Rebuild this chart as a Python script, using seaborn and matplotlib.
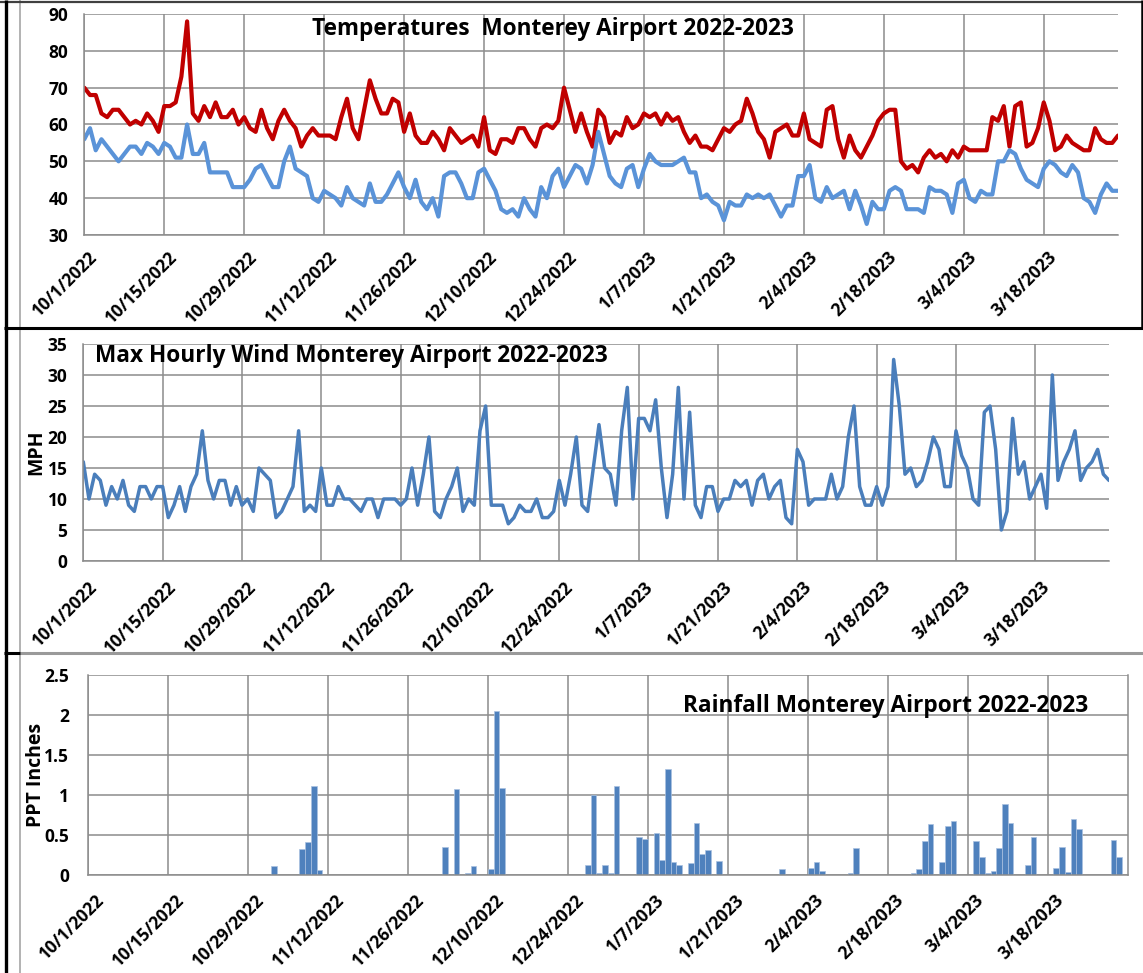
import numpy as np
import matplotlib
matplotlib.use("Agg")
import matplotlib.pyplot as plt
import seaborn as sns
from matplotlib.lines import Line2D
from matplotlib.transforms import ScaledTranslation

# ---------------- data ----------------
tick_labels = ["10/1/2022", "10/15/2022", "10/29/2022", "11/12/2022", "11/26/2022",
               "12/10/2022", "12/24/2022", "1/7/2023", "1/21/2023", "2/4/2023",
               "2/18/2023", "3/4/2023", "3/18/2023"]

high_f = [70, 68, 68, 63, 62, 64, 64, 62, 60, 61, 60, 63, 61, 58, 65, 65, 66, 73, 88, 63,
          61, 65, 62, 66, 62, 62, 64, 60, 62, 59, 58, 64, 59, 56, 61, 64, 61, 59, 54, 57,
          59, 57, 57, 57, 56, 62, 67, 59, 56, 64, 72, 67, 63, 63, 67, 66, 58, 63, 57, 55,
          55, 58, 56, 53, 59, 57, 55, 56, 57, 54, 62, 53, 52, 56, 56, 55, 59, 59, 56, 54,
          59, 60, 59, 61, 70, 64, 58, 63, 58, 54, 64, 62, 55, 58, 57, 62, 59, 60, 63, 62,
          63, 60, 63, 61, 62, 58, 55, 57, 54, 54, 53, 56, 59, 58, 60, 61, 67, 63, 58, 56,
          51, 58, 59, 60, 57, 57, 63, 56, 55, 54, 64, 65, 56, 51, 57, 53, 51, 54, 57, 61,
          63, 64, 64, 50, 48, 49, 47, 51, 53, 51, 52, 50, 53, 51, 54, 53, 53, 53, 53, 62,
          61, 65, 54, 65, 66, 54, 55, 59, 66, 61, 53, 54, 57, 55, 54, 53, 53, 59, 56, 55,
          55, 57]

low_f = [56, 59, 53, 56, 54, 52, 50, 52, 54, 54, 52, 55, 54, 52, 55, 54, 51, 51, 60, 52,
         52, 55, 47, 47, 47, 47, 43, 43, 43, 45, 48, 49, 46, 43, 43, 50, 54, 48, 47, 46,
         40, 39, 42, 41, 40, 38, 43, 40, 39, 38, 44, 39, 39, 41, 44, 47, 43, 40, 45, 39,
         37, 40, 35, 46, 47, 47, 44, 40, 40, 47, 48, 45, 42, 37, 36, 37, 35, 40, 37, 35,
         43, 40, 46, 48, 43, 46, 49, 48, 44, 49, 58, 52, 46, 44, 43, 48, 49, 43, 48, 52,
         50, 49, 49, 49, 50, 51, 47, 47, 40, 41, 39, 38, 34, 39, 38, 38, 41, 40, 41, 40,
         41, 38, 35, 38, 38, 46, 46, 49, 40, 39, 43, 40, 41, 42, 37, 42, 38, 33, 39, 37,
         37, 42, 43, 42, 37, 37, 37, 36, 43, 42, 42, 41, 36, 44, 45, 40, 39, 42, 41, 41,
         50, 50, 53, 52, 48, 45, 44, 43, 48, 50, 49, 47, 46, 49, 47, 40, 39, 36, 41, 44,
         42, 42]

wind_mph = [16, 10, 14, 13, 9, 12, 10, 13, 9, 8, 12, 12, 10, 12, 12, 7, 9, 12, 8, 12,
            14, 21, 13, 10, 13, 13, 9, 12, 9, 10, 8, 15, 14, 13, 7, 8, 10, 12, 21, 8,
            9, 8, 15, 9, 9, 12, 10, 10, 9, 8, 10, 10, 7, 10, 10, 10, 9, 10, 15, 9,
            14, 20, 8, 7, 10, 12, 15, 8, 10, 9, 21, 25, 9, 9, 9, 6, 7, 9, 8, 8,
            10, 7, 7, 8, 13, 9, 14, 20, 9, 8, 15, 22, 15, 14, 9, 21, 28, 10, 23, 23,
            21, 26, 15, 7, 14, 28, 10, 24, 9, 7, 12, 12, 8, 10, 10, 13, 12, 13, 9, 13,
            14, 10, 12, 13, 7, 6, 18, 16, 9, 10, 10, 10, 14, 10, 12, 20, 25, 12, 9, 9,
            12, 9, 12, 32.5, 25, 14, 15, 12, 13, 16, 20, 18, 12, 12, 21, 17, 15, 10, 9, 24,
            25, 18, 5, 8, 23, 14, 16, 10, 12, 14, 8.5, 30, 13, 16, 18, 21, 13, 15, 16, 18,
            14, 13]

rain_days = [32, 37, 38, 39, 40, 62, 64, 66, 67, 70, 71, 72, 87, 88, 89, 90, 91, 92,
             96, 97, 99, 100, 101, 102, 103, 105, 106, 107, 108, 110, 121, 126, 127, 128,
             133, 134, 144, 145, 146, 147, 149, 150, 151, 155, 156, 157, 158, 159, 160,
             161, 164, 165, 169, 170, 171, 172, 173, 179, 180]
rain_in = [0.11, 0.32, 0.41, 1.11, 0.06, 0.35, 1.08, 0.03, 0.11, 0.07, 2.05, 1.09, 0.13,
           1.00, 0.03, 0.13, 0.03, 1.11, 0.47, 0.45, 0.53, 0.19, 1.32, 0.16, 0.12, 0.15,
           0.65, 0.26, 0.31, 0.17, 0.08, 0.09, 0.16, 0.05, 0.02, 0.34, 0.02, 0.07, 0.43,
           0.64, 0.16, 0.61, 0.68, 0.43, 0.22, 0.03, 0.05, 0.34, 0.89, 0.65, 0.12, 0.47,
           0.09, 0.35, 0.04, 0.70, 0.57, 0.44, 0.22]

# ---------------- style ----------------
W, H = 1143, 973
sns.set_style("white")
plt.rcParams['font.family'] = ['Open Sans', 'DejaVu Sans']
plt.rcParams['font.weight'] = 'bold'
plt.rcParams['axes.labelweight'] = 'bold'

RED = '#C00000'
LOWBLUE = '#5A93D8'
WINDBLUE = '#4A7EBB'
BARBLUE = '#4F81BD'
GRID = '#8C8C8C'
TICKSIZE = 12.5
TITLESIZE = 16.3

fig = plt.figure(figsize=(W / 100, H / 100), dpi=100)


def box(x0, y0, x1, y1):
    return [x0 / W, 1 - y1 / H, (x1 - x0) / W, (y1 - y0) / H]


n = len(high_f)
days = np.arange(n)
rain = np.zeros(n)
rain[rain_days] = rain_in
tick_idx = np.arange(0, n, 14)


def style_axes(ax, xticks, xpad, xshift_px, ypad):
    ax.grid(True, color=GRID, lw=1.1)
    ax.set_axisbelow(True)
    for s in ['top', 'right']:
        ax.spines[s].set_visible(False)
    for s in ['left', 'bottom']:
        ax.spines[s].set_color(GRID)
        ax.spines[s].set_linewidth(1.1)
    ax.tick_params(axis='both', direction='out', length=4.5, width=1.1,
                   color=GRID, labelsize=TICKSIZE, labelcolor='black')
    ax.tick_params(axis='y', pad=ypad)
    ax.tick_params(axis='x', pad=xpad)
    ax.set_xticks(xticks)
    ax.set_xticklabels(tick_labels, rotation=45, ha='right', va='top',
                       rotation_mode='anchor', fontweight='bold')
    off = ScaledTranslation(xshift_px / 100, 0, fig.dpi_scale_trans)
    for lab in ax.get_xticklabels():
        lab.set_transform(lab.get_transform() + off)
    for lab in ax.get_yticklabels():
        lab.set_fontweight('bold')
    ax.set_xlabel('')


# ---- Temperatures ----
ax1 = fig.add_axes(box(84.3, 14, 1118, 235))
sns.lineplot(x=days, y=high_f, color=RED, lw=3.0, ax=ax1,
             solid_joinstyle='round', solid_capstyle='round')
sns.lineplot(x=days, y=low_f, color=LOWBLUE, lw=3.0, ax=ax1,
             solid_joinstyle='round', solid_capstyle='round')
ax1.set_xlim(0, n - 1)
ax1.set_ylim(30, 90)
ax1.set_yticks(np.arange(30, 91, 10))
style_axes(ax1, tick_idx, 5, 4, 7)
ax1.set_ylabel('')

# ---- Wind ----
ax2 = fig.add_axes(box(83.3, 344, 1109, 561))
sns.lineplot(x=days, y=wind_mph, color=WINDBLUE, lw=2.5, ax=ax2,
             solid_joinstyle='round', solid_capstyle='round')
ax2.set_xlim(0, n - 1)
ax2.set_ylim(0, 35)
ax2.set_yticks(np.arange(0, 36, 5))
style_axes(ax2, tick_idx, 8, 5, 7)
ax2.set_ylabel('')

# ---- Rain ----
ax3 = fig.add_axes(box(88, 675, 1127.7, 875))
sns.barplot(x=days, y=rain, native_scale=True, width=1.0, color=BARBLUE,
            saturation=1, errorbar=None, edgecolor='#A9C1E0', linewidth=0.5, ax=ax3)
ax3.set_xlim(-0.5, n - 0.5)
ax3.set_ylim(0, 2.5)
ax3.set_yticks(np.arange(0, 2.51, 0.5))
ax3.set_yticklabels([f"{v:g}" for v in np.arange(0, 2.51, 0.5)])
style_axes(ax3, tick_idx - 0.5, 7, 7, 9)
ax3.spines['right'].set_visible(True)
ax3.spines['right'].set_color(GRID)
ax3.spines['right'].set_linewidth(1.1)
ax3.set_ylabel('')

# ---------------- titles & labels ----------------
fig.text(553 / W, 1 - 35 / H, "Temperatures  Monterey Airport 2022-2023",
         ha='center', va='baseline', fontsize=TITLESIZE, fontweight='bold', color='black')
fig.text(95 / W, 1 - 362 / H, "Max Hourly Wind Monterey Airport 2022-2023",
         ha='left', va='baseline', fontsize=TITLESIZE, fontweight='bold', color='black')
fig.text(683 / W, 1 - 711.7 / H, "Rainfall Monterey Airport 2022-2023",
         ha='left', va='baseline', fontsize=TITLESIZE, fontweight='bold', color='black')
fig.text(36 / W, 1 - 452 / H, "MPH", rotation=90, ha='center', va='center',
         fontsize=14, fontweight='bold', color='black')
fig.text(36 / W, 1 - 775 / H, "PPT Inches", rotation=90, ha='center', va='center',
         fontsize=14, fontweight='bold', color='black')

# ---------------- chart-area borders ----------------


def fline(x0, y0, x1, y1, color, lw):
    fig.add_artist(Line2D([x0 / W, x1 / W], [1 - y0 / H, 1 - y1 / H],
                          transform=fig.transFigure, color=color, lw=lw,
                          solid_capstyle='butt'))


fline(20, 0, 20, H, '#A6A6A6', 1.2)
fline(0, 1.5, W, 1.5, '#404040', 1.6)
fline(5.5, 0, 5.5, H, 'black', 2.4)
fline(1141.5, 0, 1141.5, 328, 'black', 1.8)
fline(4, 327.5, W, 327.5, 'black', 2.2)
fline(20, 652.5, W, 652.5, '#9A9A9A', 2.2)
fline(4, 652.5, 20, 652.5, 'black', 2.2)

fig.savefig("out.png", dpi=100)
